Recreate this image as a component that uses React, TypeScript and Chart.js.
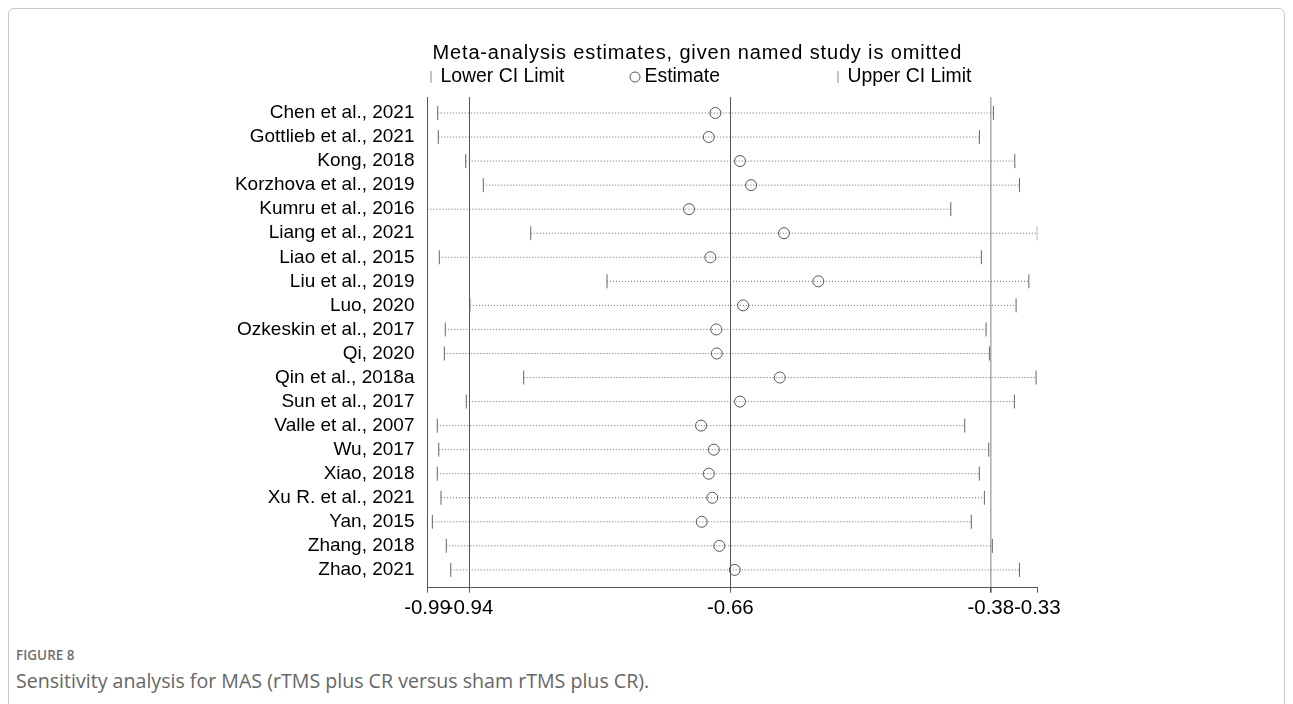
import React, { useEffect, useRef } from "react";
import { Chart, registerables } from "chart.js";

Chart.register(...registerables);

const FONT = '"Liberation Sans", Arial, sans-serif';

const studies = [
  "Chen et al., 2021",
  "Gottlieb et al., 2021",
  "Kong, 2018",
  "Korzhova et al., 2019",
  "Kumru et al., 2016",
  "Liang et al., 2021",
  "Liao et al., 2015",
  "Liu et al., 2019",
  "Luo, 2020",
  "Ozkeskin et al., 2017",
  "Qi, 2020",
  "Qin et al., 2018a",
  "Sun et al., 2017",
  "Valle et al., 2007",
  "Wu, 2017",
  "Xiao, 2018",
  "Xu R. et al., 2021",
  "Yan, 2015",
  "Zhang, 2018",
  "Zhao, 2021",
];

const lowerCI = [
  -0.9746, -0.974, -0.9445, -0.9256, -0.9856, -0.8746, -0.9729, -0.7926, -0.94, -0.9665,
  -0.9675, -0.8822, -0.9439, -0.9751, -0.9735, -0.9751, -0.9711, -0.9804, -0.9654, -0.9606,
];

const estimates = [
  -0.6761, -0.6832, -0.6496, -0.6377, -0.7044, -0.6023, -0.6815, -0.5654, -0.6463, -0.6751,
  -0.6746, -0.6069, -0.6496, -0.6915, -0.6778, -0.6832, -0.6794, -0.6908, -0.6718, -0.6553,
];

const upperCI = [
  -0.3772, -0.3923, -0.3542, -0.3492, -0.423, -0.33, -0.3901, -0.3391, -0.3528, -0.3851,
  -0.3815, -0.3313, -0.3546, -0.408, -0.3822, -0.3923, -0.3869, -0.4009, -0.3783, -0.3492,
];

const xTickValues = [-0.9856, -0.94, -0.66, -0.38, -0.33];
const xTickLabels = ["-0.99", "-0.94", "-0.66", "-0.38", "-0.33"];
const refLineValues = [-0.94, -0.66, -0.38];

const titleText = "Meta-analysis estimates, given named study is omitted";
const legendLabels = ["Lower CI Limit", "Estimate", "Upper CI Limit"];

const captionLabel = "FIGURE 8";
const captionText = "Sensitivity analysis for MAS (rTMS plus CR versus sham rTMS plus CR).";

const headerPlugin = {
  id: "headerLegend",
  afterDraw(chart: any) {
    const { ctx, chartArea } = chart;
    const L = chartArea.left;
    ctx.save();
    ctx.fillStyle = "#000";
    ctx.textBaseline = "middle";
    ctx.textAlign = "left";
    ctx.font = `20px ${FONT}`;
    try {
      (ctx as any).letterSpacing = "0.85px";
    } catch (e) {}
    ctx.fillText(titleText, L + 5, 44);
    try {
      (ctx as any).letterSpacing = "0px";
    } catch (e) {}

    ctx.font = `19.4px ${FONT}`;
    const y = 68;
    ctx.strokeStyle = "#8a8a8a";
    ctx.lineWidth = 1;
    const marker = (x: number) => {
      ctx.beginPath();
      ctx.moveTo(x, y - 6);
      ctx.lineTo(x, y + 6);
      ctx.stroke();
    };
    marker(L + 3.5);
    ctx.fillText(legendLabels[0], L + 13, y);
    ctx.strokeStyle = "#555";
    ctx.beginPath();
    ctx.arc(L + 207.5, y, 5, 0, Math.PI * 2);
    ctx.stroke();
    ctx.fillText(legendLabels[1], L + 217, y);
    ctx.strokeStyle = "#8a8a8a";
    marker(L + 410.5);
    ctx.fillText(legendLabels[2], L + 420, y);
    ctx.restore();
  },
};

export default function App() {
  const canvasRef = useRef<HTMLCanvasElement | null>(null);

  useEffect(() => {
    if (!canvasRef.current) return;
    const rows = studies.map((_, i) => i + 1);

    const lineData: any[] = [];
    rows.forEach((r, i) => {
      lineData.push({ x: lowerCI[i], y: r });
      lineData.push({ x: upperCI[i], y: r });
      lineData.push({ x: null, y: null });
    });

    const chart = new Chart(canvasRef.current, {
      type: "scatter",
      data: {
        datasets: [
          {
            label: "Estimate",
            data: rows.map((r, i) => ({ x: estimates[i], y: r })),
            pointStyle: "circle",
            pointRadius: 5.5,
            pointBorderColor: "#555",
            pointBackgroundColor: "rgba(0,0,0,0)",
            pointBorderWidth: 1,
            order: 0,
          },
          {
            label: "Lower CI Limit",
            data: rows.map((r, i) => ({ x: lowerCI[i], y: r })),
            pointStyle: "line",
            rotation: 90,
            pointRadius: 7,
            pointBorderColor: "#666",
            pointBorderWidth: 1,
            order: 1,
          },
          {
            label: "Upper CI Limit",
            data: rows.map((r, i) => ({ x: upperCI[i], y: r })),
            pointStyle: "line",
            rotation: 90,
            pointRadius: 7,
            pointBorderColor: "#666",
            pointBorderWidth: 1,
            order: 1,
          },
          {
            label: "CI",
            data: lineData,
            showLine: true,
            spanGaps: false,
            pointRadius: 0,
            borderColor: "#6a6a6a",
            borderWidth: 1,
            borderDash: [1, 2],
            order: 3,
          } as any,
        ],
      },
      options: {
        animation: false,
        responsive: false,
        events: [],
        layout: { padding: { left: 0, right: 246.7, top: 88, bottom: 0 } },
        plugins: {
          legend: { display: false },
          tooltip: { enabled: false },
          title: { display: false },
        },
        scales: {
          x: {
            type: "linear",
            min: xTickValues[0],
            max: xTickValues[xTickValues.length - 1],
            afterBuildTicks: (scale: any) => {
              scale.ticks = xTickValues.map((v) => ({ value: v }));
            },
            afterFit: (scale: any) => {
              scale.height = 41.3;
            },
            ticks: {
              autoSkip: false,
              maxRotation: 0,
              minRotation: 0,
              padding: 3.5,
              color: "#000",
              font: { family: FONT, size: 20.5 },
              callback: (_v: any, idx: number) => xTickLabels[idx],
            },
            grid: {
              drawTicks: true,
              tickLength: 5,
              tickColor: "#555",
              lineWidth: (ctx: any) =>
                ctx.tick && Math.abs(ctx.tick.value - refLineValues[2]) < 1e-6 ? 1.6 : 1,
              color: (ctx: any) => {
                const v = ctx.tick ? ctx.tick.value : NaN;
                if (Math.abs(v - refLineValues[2]) < 1e-6) return "#b0b0b0";
                if (refLineValues.some((r) => Math.abs(r - v) < 1e-6)) return "#555";
                return "rgba(0,0,0,0)";
              },
            },
            border: { display: true, color: "#555", width: 1 },
          },
          y: {
            type: "linear",
            reverse: true,
            min: 0.335,
            max: 20.74,
            afterBuildTicks: (scale: any) => {
              scale.ticks = rows.map((v) => ({ value: v }));
            },
            afterFit: (scale: any) => {
              scale.width = 418.5;
            },
            ticks: {
              autoSkip: false,
              padding: 13,
              color: "#000",
              font: { family: FONT, size: 19 },
              callback: (v: any) => studies[Math.round(Number(v)) - 1] ?? "",
            },
            grid: { display: false, drawTicks: false },
            border: { display: true, color: "#555", width: 1 },
          },
        },
      },
      plugins: [headerPlugin],
    } as any);

    return () => chart.destroy();
  }, []);

  return (
    <div
      style={{
        position: "relative",
        border: "1px solid #c8c8c8",
        borderRadius: 6,
        height: 720,
        boxSizing: "border-box",
        background: "#fff",
      }}
    >
      <canvas
        ref={canvasRef}
        width={1275}
        height={620}
        style={{ position: "absolute", left: 0, top: 0, width: 1275, height: 620 }}
      />
      <div
        style={{
          position: "absolute",
          left: 7,
          top: 637,
          fontFamily: '"Open Sans", sans-serif',
          fontWeight: 600,
          fontSize: 13.5,
          lineHeight: "18px",
          color: "#6f6f6f",
        }}
      >
        {captionLabel}
      </div>
      <div
        style={{
          position: "absolute",
          left: 7,
          top: 660,
          fontFamily: '"Open Sans", sans-serif',
          fontSize: 19.6,
          lineHeight: "24px",
          color: "#666",
          whiteSpace: "nowrap",
        }}
      >
        {captionText}
      </div>
    </div>
  );
}
